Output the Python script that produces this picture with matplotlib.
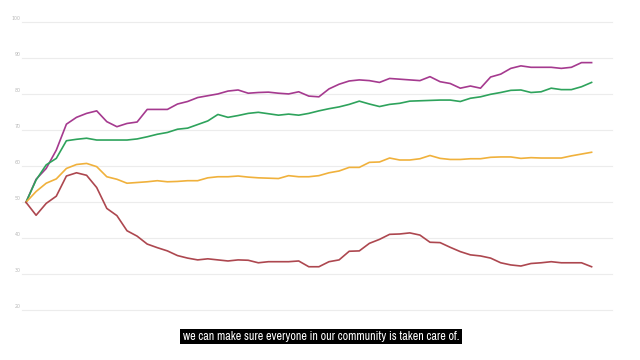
import matplotlib
matplotlib.use("Agg")
import matplotlib.pyplot as plt
from matplotlib import font_manager as fm
from matplotlib.patches import Rectangle
import numpy as np

# ---- data ----
purple = [50, 56.4, 59.4, 64.5, 71.7, 73.6, 74.7, 75.4, 72.4, 71.0, 71.9, 72.3,
          75.8, 75.8, 75.8, 77.3, 78.0, 79.1, 79.6, 80.1, 80.9, 81.2, 80.3,
          80.5, 80.6, 80.3, 80.1, 80.7, 79.5, 79.3, 81.5, 82.8, 83.7, 84.0,
          83.8, 83.3, 84.4, 84.2, 84.0, 83.8, 84.9, 83.5, 83.0, 81.7, 82.3, 81.7, 84.8,
          85.6, 87.2, 87.9, 87.5, 87.5, 87.5, 87.2, 87.5, 88.8, 88.8]
green = [50, 56.2, 60.4, 62.2, 67.1, 67.5, 67.8, 67.3, 67.3, 67.3, 67.3, 67.6,
         68.2, 68.9, 69.4, 70.3, 70.6, 71.6, 72.6, 74.4, 73.6, 74.1, 74.7,
         75.0, 74.6, 74.2, 74.5, 74.2, 74.7, 75.4, 76.0, 76.5, 77.2, 78.1,
         77.3, 76.6, 77.2, 77.5, 78.1, 78.2, 78.3, 78.4, 78.4, 78.0, 78.9, 79.3, 80.0,
         80.5, 81.1, 81.2, 80.5, 80.7, 81.7, 81.3, 81.3, 82.1, 83.3]
yellow = [50, 53.0, 55.3, 56.5, 59.4, 60.5, 60.8, 59.9, 57.1, 56.4, 55.3, 55.5,
          55.7, 56.0, 55.7, 55.8, 56.0, 56.0, 56.8, 57.1, 57.1, 57.3, 57.0,
          56.8, 56.7, 56.6, 57.4, 57.1, 57.1, 57.4, 58.2, 58.7, 59.7, 59.7,
          61.1, 61.2, 62.3, 61.75, 61.75, 62.1, 63.0, 62.2, 61.9, 61.9, 62.1, 62.1, 62.5,
          62.6, 62.6, 62.2, 62.4, 62.3, 62.3, 62.3, 62.9, 63.4, 63.9]
red = [50, 46.4, 49.7, 51.7, 57.3, 58.2, 57.5, 54.1, 48.3, 46.3, 42.1, 40.6,
       38.4, 37.4, 36.5, 35.2, 34.5, 34.0, 34.3, 34.0, 33.7, 34.0, 33.9,
       33.2, 33.5, 33.5, 33.5, 33.7, 32.1, 32.1, 33.5, 34.0, 36.4, 36.5,
       38.6, 39.7, 41.1, 41.2, 41.5, 40.9, 38.9, 38.8, 37.5, 36.3, 35.4, 35.1, 34.5,
       33.2, 32.6, 32.3, 33.0, 33.2, 33.5, 33.2, 33.2, 33.2, 32.1]
y_ticks = [20, 30, 40, 50, 60, 70, 80, 90, 100]
caption = "we can make sure everyone in our community is taken care of."

series = [(purple, "#a53a8f"), (green, "#2ea35c"), (yellow, "#f0b13c"), (red, "#ad474f")]

W, H = 640, 360
fig = plt.figure(figsize=(6.4, 3.6), dpi=100)
ax = fig.add_axes([0, 0, 1, 1])
ax.set_axis_off()

step = 10.1  # px per point
x0 = 26.0
ax.set_xlim((0 - x0) / step, (W - x0) / step)
ax.set_ylim(50 - (H - 202.3) / 3.6, 50 + 202.3 / 3.6)

gx0 = (22 - x0) / step
gx1 = (612 - x0) / step
for t in y_ticks:
    ax.plot([gx0, gx1], [t, t], color="#ececec", lw=0.8, zorder=1)
    ax.text((20.5 - x0) / step, t + 0.4, str(t), ha="right", va="bottom",
            fontsize=3.4, color="#b8b8b8", zorder=2)

for vals, col in series:
    x = np.arange(len(vals))
    ax.plot(x, vals, color=col, lw=1.2, solid_joinstyle="round", zorder=3)

# caption: prefer a narrow/condensed sans if one is installed
names = sorted({f.name for f in fm.fontManager.ttflist})
narrow = [n for n in names if ("Narrow" in n or "Condensed" in n) and "Mono" not in n]
fam = narrow[:1] + ["Liberation Sans", "DejaVu Sans"]

box = Rectangle((180 / W, 1 - 344 / H), 282 / W, 15 / H, transform=fig.transFigure,
                facecolor="black", edgecolor="none", zorder=5)
fig.patches.append(box)
fs0 = 8.2
txt = fig.text(321 / W, 1 - 336.6 / H, caption, ha="center", va="center",
               color="white", fontsize=fs0, family=fam, zorder=6)
fig.canvas.draw()
r = fig.canvas.get_renderer()
w = txt.get_window_extent(r).width
target = 277.0
fs = fs0 * target / w
txt.set_fontsize(min(fs, 9.2))

fig.savefig("out.png", dpi=100)
